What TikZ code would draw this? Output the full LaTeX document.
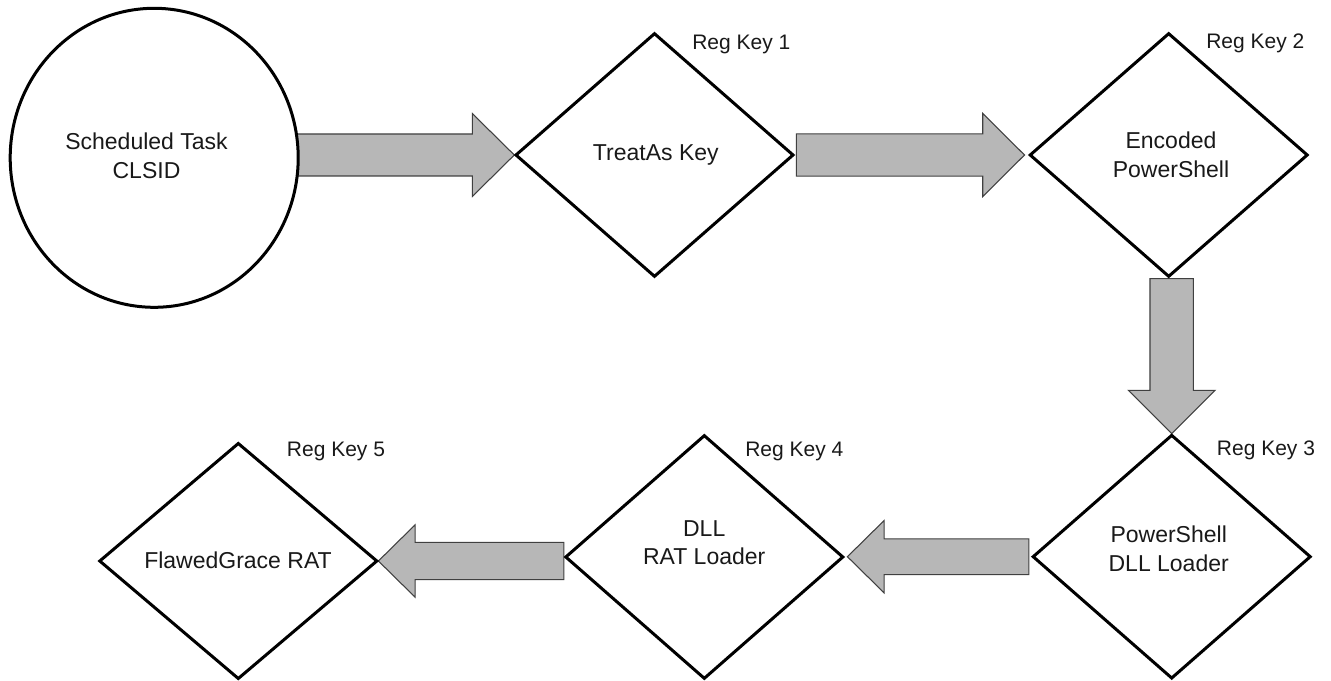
\documentclass[tikz,border=0pt]{standalone}
\usepackage{fontspec}
\setmainfont{Liberation Sans}
\usetikzlibrary{shapes.geometric,calc}
\pgfdeclarelayer{background}
\pgfsetlayers{background,main}
\definecolor{arrowfill}{HTML}{B7B7B7}
\definecolor{arrowline}{HTML}{404040}
% #1 start, #2 tip, #3 shaft half width, #4 head half width, #5 head length
\newcommand{\blockarrow}[5]{%
  \begin{pgfonlayer}{background}
  \path (#2) coordinate (ba-t) ($(#2)!#5!(#1)$) coordinate (ba-b);
  \draw[barrow] ($(#1)!#3!90:(ba-t)$) -- ($(ba-b)!#3!90:(ba-t)$) -- ($(ba-b)!#4!90:(ba-t)$)
     -- (ba-t) -- ($(ba-b)!#4!-90:(ba-t)$) -- ($(ba-b)!#3!-90:(ba-t)$) -- ($(#1)!#3!-90:(ba-t)$) -- cycle;
  \end{pgfonlayer}}
\begin{document}
\begin{tikzpicture}[x=0.75pt,y=-0.75pt,
  dia/.style={diamond, draw=black, line width=2.25pt, fill=white, minimum width=207.75pt,
     minimum height=182pt, inner sep=0pt, outer sep=0pt},
  circ/.style={ellipse, draw=black, line width=2.25pt, fill=white, minimum width=216pt,
     minimum height=224.25pt, inner sep=0pt, outer sep=0pt},
  txt/.style={align=center, inner sep=0pt, text=black!90,
     font=\fontsize{17.25}{21.45}\selectfont},
  lbl/.style={anchor=base west, inner sep=0pt, text=black!90,
     font=\fontsize{15.75}{18}\selectfont},
  barrow/.style={draw=arrowline, line width=0.8pt, fill=arrowfill, line join=miter}]
\useasboundingbox (0,0) rectangle (1331,681);

% shapes
\node[circ] (c) at (154.2,157.8) {};
\node[dia] (d1) at (654.5,155) {};
\node[dia] (d2) at (1168.7,155) {};
\node[dia] (d3) at (1171.7,556.7) {};
\node[dia] (d4) at (704.3,557) {};
\node[dia, minimum height=176.25pt] (d5) at (238.3,561) {};

% texts
\node[txt] (t0) at (146.5,156) {Scheduled Task\\CLSID};
\node[txt] (t1) at (655.8,155) {TreatAs Key};
\node[txt] (t2) at (1171,155) {Encoded\\PowerShell};
\node[txt] (t3) at (1168.7,549) {PowerShell\\DLL Loader};
\node[txt] (t4) at (704.2,542.5) {DLL\\RAT Loader};
\node[txt] (t5) at (238,560) {FlawedGrace RAT};

% labels
\node[lbl] (rk1) at (692,49.3) {Reg Key 1};
\node[lbl] (rk2) at (1206,48.7) {Reg Key 2};
\node[lbl] (rk3) at (1216.7,455.5) {Reg Key 3};
\node[lbl] (rk4) at (745,456) {Reg Key 4};
\node[lbl] (rk5) at (286.7,456) {Reg Key 5};

% block arrows
\blockarrow{$(c.east |- d1.west)+(-1,0)$}{$(d1.west)+(-1.7,0)$}{15.75pt}{31.1pt}{31.5pt}
\blockarrow{$(d1.east)+(3.4,0)$}{$(d2.west)+(-5.7,0)$}{15.9pt}{31.2pt}{31.3pt}
\blockarrow{$(d3.north |- d2.south)+(0,2.3)$}{$(d3.north)+(0,-1.7)$}{16.3pt}{32.5pt}{32.5pt}
\blockarrow{$(d3.west)+(-4.3,0)$}{$(d4.east |- d3.west)+(4.6,0)$}{13.4pt}{27.1pt}{27.5pt}
\blockarrow{$(d4.west |- d5.east)+(-2,0)$}{$(d5.east)+(1.6,0)$}{14pt}{27.1pt}{27.5pt}
\end{tikzpicture}
\end{document}
